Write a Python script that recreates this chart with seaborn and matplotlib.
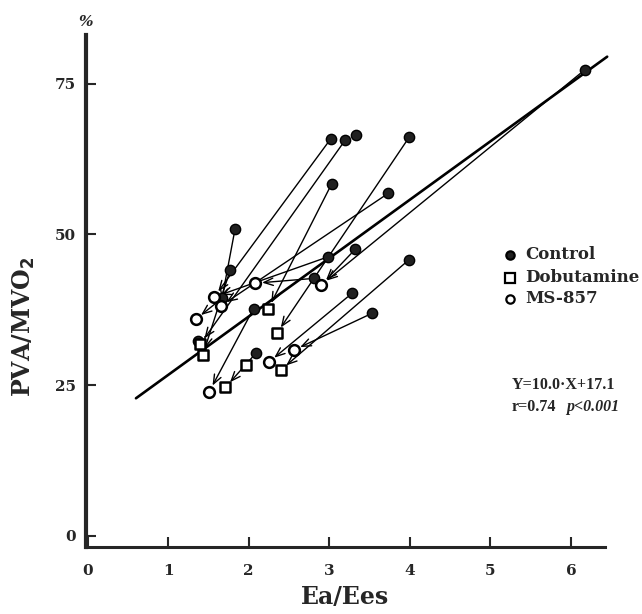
import numpy as np
import pandas as pd
import matplotlib
matplotlib.use("Agg")
import matplotlib.pyplot as plt
import seaborn as sns

# control points (filled)
ctrl_x = [3.02, 3.20, 3.33, 3.99, 3.03, 3.73, 1.83, 1.77, 3.32, 2.99,
          3.99, 2.81, 3.28, 3.53, 2.06, 1.67, 1.37, 2.09, 6.17]
ctrl_y = [65.9, 65.7, 66.5, 66.1, 58.4, 56.8, 50.9, 44.1, 47.5, 46.3,
          45.8, 42.7, 40.2, 36.9, 37.7, 39.4, 32.3, 30.3, 77.3]

# dobutamine (open squares)
dob_x = [2.24, 2.35, 1.43, 1.97, 2.40, 1.71, 1.40]
dob_y = [37.6, 33.6, 30.0, 28.3, 27.5, 24.6, 31.8]

# MS-857 (open circles)
ms_x = [2.90, 2.08, 1.57, 1.65, 1.34, 2.56, 2.25, 1.51]
ms_y = [41.6, 41.9, 39.6, 38.1, 35.9, 30.8, 28.8, 23.9]

# arrows: control point -> treated point
arr_x0 = [3.02, 3.20, 3.99, 3.03, 3.73, 1.83, 1.77, 3.32, 2.99, 3.99, 2.81, 3.28, 3.53, 2.06, 2.09, 6.17, 1.67]
arr_y0 = [65.9, 65.7, 66.1, 58.4, 56.8, 50.9, 44.1, 47.5, 46.3, 45.8, 42.7, 40.2, 36.9, 37.7, 30.3, 77.3, 39.4]
arr_x1 = [1.57, 1.40, 2.35, 2.24, 1.65, 1.65, 1.43, 2.90, 1.57, 2.40, 2.08, 2.25, 2.56, 1.51, 1.71, 2.90, 1.34]
arr_y1 = [39.6, 31.8, 33.6, 37.6, 38.1, 38.1, 30.0, 41.6, 39.6, 27.5, 41.9, 28.8, 30.8, 23.9, 24.6, 41.6, 35.9]

# regression line as drawn
fit_x = [0.60, 6.45]
fit_y = [22.8, 79.5]

x_ticks = [0, 1, 2, 3, 4, 5, 6]
y_ticks = [0, 25, 50, 75]

sns.set_theme(style="ticks")
plt.rcParams['font.family'] = ['DejaVu Serif']
plt.rcParams['font.weight'] = 'bold'

fig = plt.figure(figsize=(6.42, 6.14), dpi=100)
ax = fig.add_axes([0.134, 0.109, 0.808, 0.834])

for x0, y0, x1, y1 in zip(arr_x0, arr_y0, arr_x1, arr_y1):
    ax.annotate("", xy=(x1, y1), xytext=(x0, y0),
                arrowprops=dict(arrowstyle="->,head_length=0.55,head_width=0.22",
                                lw=1.0, color="black", shrinkA=4, shrinkB=5))

sns.lineplot(x=fit_x, y=fit_y, ax=ax, color="black", lw=1.9, clip_on=False)

sns.scatterplot(x=ctrl_x, y=ctrl_y, ax=ax, marker="o", s=55, color="#202020",
                edgecolor="black", linewidth=1, zorder=5, clip_on=False)
sns.scatterplot(x=dob_x, y=dob_y, ax=ax, marker="s", s=55, facecolor="white",
                edgecolor="black", linewidth=1.8, zorder=5)
sns.scatterplot(x=ms_x, y=ms_y, ax=ax, marker="o", s=60, facecolor="white",
                edgecolor="black", linewidth=1.8, zorder=5)

ax.set_xlim(-0.02, 6.42)
ax.set_ylim(-1.9, 83.1)
ax.set_xticks(x_ticks)
ax.set_yticks(y_ticks)
ax.tick_params(direction="in", length=7, width=1.5, labelsize=11)
ax.tick_params(axis="x", pad=12)
ax.tick_params(axis="y", pad=7)
for lab in ax.get_xticklabels() + ax.get_yticklabels():
    lab.set_fontweight("bold")
sns.despine(ax=ax)
ax.spines["left"].set_linewidth(3)
ax.spines["bottom"].set_linewidth(2.2)

ax.set_xlabel("Ea/Ees", fontsize=17, fontweight="bold", labelpad=5)
ax.set_ylabel(r"PVA/MVO$_\mathbf{2}$", fontsize=17, fontweight="bold")
ax.yaxis.set_label_coords(-0.094, 0.43)
ax.text(0.0, 1.012, "%", transform=ax.transAxes, fontsize=11, fontstyle="italic",
        fontweight="bold", ha="center", va="bottom")

# legend
leg_x = 5.24
leg_items = [("Control", 46.6, "o", "#202020", 6),
             ("Dobutamine", 42.8, "s", "white", 7),
             ("MS-857", 39.3, "o", "white", 6)]
for name, yy, mk, fc, ms in leg_items:
    ax.plot([leg_x], [yy], marker=mk, ms=ms, mfc=fc, mec="black", mew=1.6, ls="none")
    ax.text(leg_x + 0.19, yy, name, fontsize=12, fontweight="bold", va="center")

eq_font = ['Liberation Serif', 'DejaVu Serif']
ax.text(5.26, 25.0, "Y=10.0\u00b7X+17.1", fontsize=11.5, fontweight="bold",
        family=eq_font, va="center")
ax.text(5.26, 21.4, "r=0.74", fontsize=11.5, fontweight="bold", family=eq_font, va="center")
ax.text(5.94, 21.4, "p<0.001", fontsize=11.5, fontweight="bold", fontstyle="italic",
        family=eq_font, va="center")

fig.savefig("out.png", dpi=100)
